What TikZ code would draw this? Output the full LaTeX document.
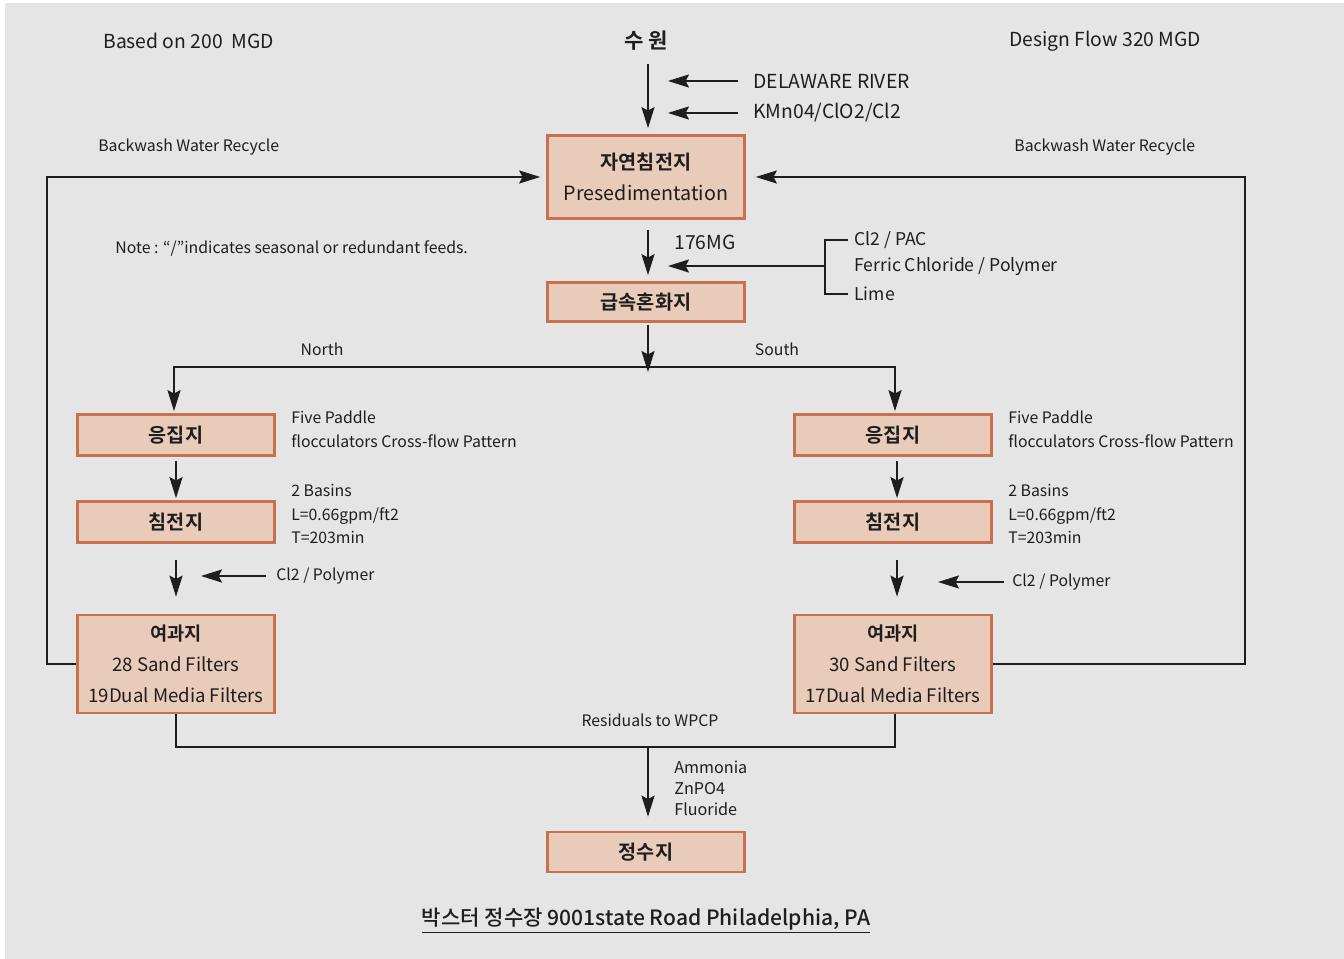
\documentclass[tikz,border=0pt]{standalone}
\usepackage{fontspec}
\setmainfont{Noto Sans CJK KR}[BoldFont={Noto Sans CJK KR Bold}]
\newfontfamily\titlefont{Noto Sans CJK KR Medium}
\usepackage{tikz}
\usetikzlibrary{arrows.meta,calc}
\definecolor{bggray}{HTML}{E5E5E5}
\definecolor{boxfill}{HTML}{E8CBB9}
\definecolor{boxline}{HTML}{C8714F}
\definecolor{ink}{HTML}{1E1E1E}
\tikzset{
  stage/.style={draw=boxline,fill=boxfill,line width=1.6pt,minimum width=3.94cm,
    inner sep=0pt,align=center,text=ink,font=\fontsize{11.2}{17.8}\selectfont},
  hdr/.style={inner sep=0pt,text=ink,font=\fontsize{11}{13}\selectfont},
  lbl/.style={inner sep=0pt,anchor=west,align=left,text=ink,font=\fontsize{9}{13.6}\selectfont},
  dose/.style={inner sep=0pt,anchor=west,text=ink,font=\fontsize{11}{13}\selectfont},
  flow/.style={-{Stealth[length=12pt,width=7.5pt,inset=2pt]},line width=0.7pt,draw=ink},
  pipe/.style={line width=0.7pt,draw=ink},
}
\begin{document}
\begin{tikzpicture}[x=0.02cm,y=-0.02cm]
\fill[bggray] (5,3) rectangle (1344,959);
\useasboundingbox (0,0) rectangle (1344,959);
% titles
\node[hdr,anchor=west] (basis) at (103,41) {Based on 200\ \ MGD};
\node[hdr,font=\fontsize{12}{14}\selectfont\bfseries] (src) at (646,41) {수 원};
\node[hdr,anchor=west] (design) at (1009,41) {Design Flow 320 MGD};
\node[dose] (river) at (753,81) {DELAWARE RIVER};
\node[dose] (chem) at (753,113) {KMn04/ClO2/Cl2};
\node[lbl] (bwLtxt) at (98,147) {Backwash Water Recycle};
\node[lbl] (bwRtxt) at (1014,147) {Backwash Water Recycle};
\node[lbl] (note) at (115,249) {Note : “/”indicates seasonal or redundant feeds.};
% stages
\node[stage,minimum height=1.66cm] (pre) at (646,177) {\textbf{자연침전지}\\Presedimentation};
\node[stage,minimum height=0.78cm] (mix) at (646,302) {\textbf{급속혼화지}};
\node[stage,minimum height=0.82cm] (flocL) at (176,435) {\textbf{응집지}};
\node[stage,minimum height=0.82cm] (flocR) at (893,435) {\textbf{응집지}};
\node[stage,minimum height=0.82cm] (sedL) at (176,522) {\textbf{침전지}};
\node[stage,minimum height=0.82cm] (sedR) at (893,522) {\textbf{침전지}};
\node[stage,minimum height=1.96cm,font=\fontsize{10.6}{17.8}\selectfont] (filtL) at (176,664) {\textbf{여과지}\\28 Sand Filters\\19Dual Media Filters};
\node[stage,minimum height=1.96cm,font=\fontsize{10.6}{17.8}\selectfont] (filtR) at (893,664) {\textbf{여과지}\\30 Sand Filters\\17Dual Media Filters};
\node[stage,minimum height=0.8cm] (clear) at (646,852) {\textbf{정수지}};
% side notes
\node[dose] (rate) at (674,242) {176MG};
\node[dose,font=\fontsize{10}{12}\selectfont] (dose1) at (854,240) {Cl2 / PAC};
\node[dose,font=\fontsize{10}{12}\selectfont] (dose2) at (854,267) {Ferric Chloride / Polymer};
\node[dose,font=\fontsize{10}{12}\selectfont] (dose3) at (854,294) {Lime};
\node[lbl,anchor=center] (north) at (322,349) {North};
\node[lbl,anchor=center] (south) at (777,349) {South};
\node[lbl] (flocLtxt) at (291,429) {Five Paddle\\flocculators Cross-flow Pattern};
\node[lbl] (flocRtxt) at (1008,429) {Five Paddle\\flocculators Cross-flow Pattern};
\node[lbl] (sedLtxt) at (291,514) {2 Basins\\L=0.66gpm/ft2\\T=203min};
\node[lbl] (sedRtxt) at (1008,514) {2 Basins\\L=0.66gpm/ft2\\T=203min};
\node[lbl] (polyL) at (276,576) {Cl2 / Polymer};
\node[lbl] (polyR) at (1012,582) {Cl2 / Polymer};
\node[lbl,anchor=center] (resid) at (650,720) {Residuals to WPCP};
\node[lbl,font=\fontsize{9.2}{11.9}\selectfont] (post) at (674,788) {Ammonia\\ZnPO4\\Fluoride};
\node[hdr,font=\fontsize{12}{14}\selectfont\titlefont] (plant) at (646,921) {\underline{박스터 정수장 9001state Road Philadelphia, PA}};
% joints
\coordinate (bwL) at (47,664);
\coordinate (bwR) at (1245,664);
\coordinate (brk) at (825,266);
\coordinate (split) at (648,367);
\coordinate (res) at (648,747);
% connectors
\draw[flow,shorten <=0.26cm,shorten >=0.12cm] (src.south -| split) -- (pre.north -| split);
\draw[flow,shorten <=0.3cm,shorten >=0.4cm] (river.west) -- (river.west -| split);
\draw[flow,shorten <=0.3cm,shorten >=0.4cm] (chem.west) -- (chem.west -| split);
\draw[flow,shorten >=0.12cm] (filtL.west) -- (bwL) |- (pre.west);
\draw[flow,shorten >=0.2cm] (filtR.east) -- (bwR) |- (pre.east);
\draw[flow,shorten <=0.2cm,shorten >=0.12cm] (pre.south -| split) -- (mix.north -| split);
\draw[pipe,shorten <=0.12cm,shorten >=0.12cm] (dose1.west) -| (brk) |- (dose3.west);
\draw[flow,shorten >=0.4cm] (brk) -- (brk -| split);
\draw[flow,shorten <=0.04cm] (mix.south -| split) -- ($(split)+(0,5)$);
\draw[flow,shorten >=0.04cm] (split) -| ($(flocL.north)+(-2,0)$);
\draw[flow,shorten >=0.04cm] (split) -| ($(flocR.north)+(2,0)$);
\draw[flow,shorten <=0.08cm,shorten >=0.04cm] (flocL.south) -- (sedL.north);
\draw[flow,shorten <=0.08cm,shorten >=0.04cm] ($(flocR.south)+(4,0)$) -- ($(sedR.north)+(4,0)$);
\draw[flow,shorten <=0.32cm,shorten >=0.34cm] (sedL.south) -- (filtL.north);
\draw[flow,shorten <=0.32cm,shorten >=0.34cm] ($(sedR.south)+(4,0)$) -- ($(filtR.north)+(4,0)$);
\draw[flow,shorten <=0.2cm,shorten >=0.5cm] (polyL.west) -- (polyL.west -| sedL.south);
\draw[flow,shorten <=0.16cm,shorten >=0.82cm] (polyR.west) -- ($(polyR.west -| sedR.south)+(4,0)$);
\draw[pipe] (filtL.south) |- (res) -| ($(filtR.south)+(2,0)$);
\draw[flow,shorten >=0.28cm] (res) -- (clear.north -| res);
\end{tikzpicture}
\end{document}
